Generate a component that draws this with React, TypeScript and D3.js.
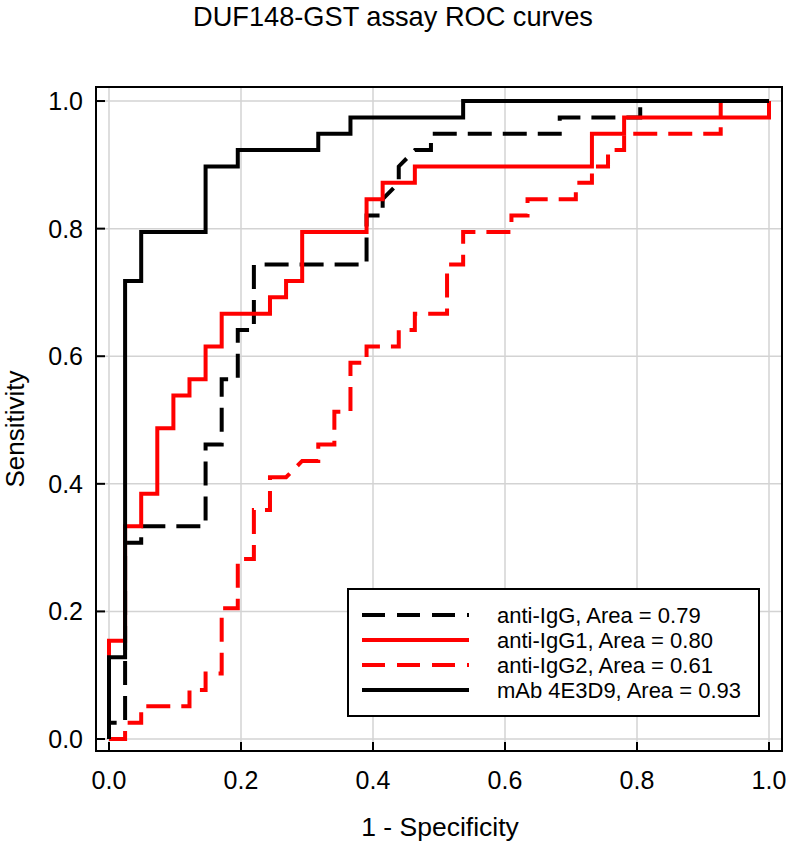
import React from "react";
import * as d3 from "d3";

// counts: negatives = 41, positives = 39
const NEG = 41;
const POS = 39;

// anti-IgG (black dashed): [false-positive count, true-positive count]
const antiIgG: [number, number][] = [
  [0, 0], [0, 1], [1, 1], [1, 12], [2, 12], [2, 13], [6, 13], [6, 18], [7, 18], [7, 22],
  [8, 22], [8, 25], [9, 25], [9, 29], [16, 29], [16, 32], [17, 32], [17, 33], [18, 34],
  [18, 35], [19, 36], [20, 36], [20, 37], [28, 37], [28, 38], [33, 38], [33, 39], [41, 39],
];

// anti-IgG1 (red solid)
const antiIgG1: [number, number][] = [
  [0, 0], [0, 6], [1, 6], [1, 13], [2, 13], [2, 15], [3, 15], [3, 19], [4, 19], [4, 21],
  [5, 21], [5, 22], [6, 22], [6, 24], [7, 24], [7, 26], [10, 26], [10, 27], [11, 27],
  [11, 28], [12, 28], [12, 31], [16, 31], [16, 33], [17, 33], [17, 34], [19, 34], [19, 35],
  [30, 35], [30, 37], [32, 37], [32, 38], [41, 38], [41, 39],
];

// anti-IgG2 (red dashed)
const antiIgG2: [number, number][] = [
  [0, 0], [1, 0], [1, 1], [2, 1], [2, 2], [5, 2], [5, 3], [6, 3], [6, 4], [7, 4], [7, 8],
  [8, 8], [8, 11], [9, 11], [9, 14], [10, 14], [10, 16], [11, 16], [12, 17], [13, 17],
  [13, 18], [14, 18], [14, 20], [15, 20], [15, 23], [16, 23], [16, 24], [18, 24], [18, 25],
  [19, 25], [19, 26], [21, 26], [21, 29], [22, 29], [22, 31], [25, 31], [25, 32], [26, 32],
  [26, 33], [29, 33], [29, 34], [30, 34], [30, 35], [31, 35], [31, 36], [32, 36], [32, 37],
  [38, 37], [38, 39], [41, 39],
];

// mAb 4E3D9 (black solid)
const mAb: [number, number][] = [
  [0, 0], [0, 5], [1, 5], [1, 28], [2, 28], [2, 31], [6, 31], [6, 35], [8, 35], [8, 36],
  [13, 36], [13, 37], [15, 37], [15, 38], [22, 38], [22, 39], [41, 39],
];

const xTicks = [0, 0.2, 0.4, 0.6, 0.8, 1.0];
const yTicks = [0, 0.2, 0.4, 0.6, 0.8, 1.0];

const legendOrder = [
  { label: "anti-IgG, Area = 0.79", color: "#000000", dash: true },
  { label: "anti-IgG1, Area = 0.80", color: "#ff0000", dash: false },
  { label: "anti-IgG2, Area = 0.61", color: "#ff0000", dash: true },
  { label: "mAb 4E3D9, Area = 0.93", color: "#000000", dash: false },
];

const W = 786;
const H = 846;
const FONT = "'Liberation Sans', Arial, Helvetica, sans-serif";
const DASH = "24,11";
const SW = 4;

export default function App() {
  const x = d3.scaleLinear().domain([-0.0197, 1.0197]).range([96, 782]);
  const y = d3.scaleLinear().domain([-0.0188, 1.022]).range([751, 87]);

  const line = d3
    .line<[number, number]>()
    .x((d) => x(d[0] / NEG))
    .y((d) => y(d[1] / POS));

  const [x0, x1] = x.range();
  const [y0, y1] = y.range();

  const drawOrder = [
    { data: antiIgG2, color: "#ff0000", dash: true },
    { data: antiIgG, color: "#000000", dash: true },
    { data: antiIgG1, color: "#ff0000", dash: false },
    { data: mAb, color: "#000000", dash: false },
  ];

  const legX = 348, legY = 589, legW = 411, legH = 127;

  return (
    <svg
      width={W}
      height={H}
      style={{ position: "fixed", left: 0, top: 0, background: "#fff" }}
      fontFamily={FONT}
    >
      <rect x={0} y={0} width={W} height={H} fill="#fff" />
      <text x={393} y={26} textAnchor="middle" fontSize={27.2} fill="#000">
        DUF148-GST assay ROC curves
      </text>

      {/* grid */}
      {xTicks.map((t) => (
        <line key={"gx" + t} x1={x(t)} x2={x(t)} y1={y1} y2={y0} stroke="#d3d3d3" strokeWidth={1.5} />
      ))}
      {yTicks.map((t) => (
        <line key={"gy" + t} x1={x0} x2={x1} y1={y(t)} y2={y(t)} stroke="#d3d3d3" strokeWidth={1.5} />
      ))}

      {/* curves */}
      {drawOrder.map((s, i) => (
        <path
          key={i}
          d={line(s.data) || ""}
          fill="none"
          stroke={s.color}
          strokeWidth={SW}
          strokeDasharray={s.dash ? DASH : undefined}
          strokeLinejoin="miter"
        />
      ))}

      {/* frame */}
      <rect x={x0} y={y1} width={x1 - x0} height={y0 - y1} fill="none" stroke="#000" strokeWidth={2} />

      {/* ticks */}
      {xTicks.map((t) => (
        <g key={"tx" + t}>
          <line x1={x(t)} x2={x(t)} y1={y0} y2={y0 - 9} stroke="#000" strokeWidth={2} />
          <text x={x(t)} y={789} textAnchor="middle" fontSize={25} fill="#000">
            {t.toFixed(1)}
          </text>
        </g>
      ))}
      {yTicks.map((t) => (
        <g key={"ty" + t}>
          <line x1={x0} x2={x0 + 9} y1={y(t)} y2={y(t)} stroke="#000" strokeWidth={2} />
          <text x={83} y={y(t) + 9} textAnchor="end" fontSize={25} fill="#000">
            {t.toFixed(1)}
          </text>
        </g>
      ))}

      <text x={440} y={836} textAnchor="middle" fontSize={26.5} fill="#000">
        1 - Specificity
      </text>
      <text
        transform={`translate(24,429) rotate(-90)`}
        textAnchor="middle"
        fontSize={26}
        fill="#000"
      >
        Sensitivity
      </text>

      {/* legend */}
      <rect x={legX} y={legY} width={legW} height={legH} fill="#fff" stroke="#000" strokeWidth={2} />
      {legendOrder.map((l, i) => {
        const ly = legY + 26 + i * 25;
        return (
          <g key={"l" + i}>
            <line
              x1={legX + 14}
              x2={legX + 121}
              y1={ly}
              y2={ly}
              stroke={l.color}
              strokeWidth={SW}
              strokeDasharray={l.dash ? "23,12" : undefined}
            />
            <text x={legX + 149} y={ly + 8} fontSize={22} fill="#000">
              {l.label}
            </text>
          </g>
        );
      })}
    </svg>
  );
}
